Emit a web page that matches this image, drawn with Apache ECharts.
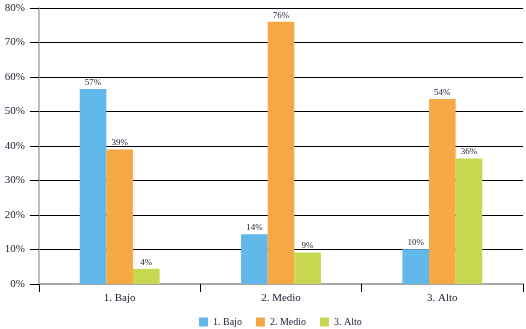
<!DOCTYPE html>
<html>
<head>
<meta charset="utf-8">
<script src="https://cdn.jsdelivr.net/npm/echarts@6/dist/echarts.min.js"></script>
<style>
  html, body { margin: 0; padding: 0; background: #fff; }
  #chart { width: 526px; height: 329px; }
</style>
</head>
<body>
<div id="chart"></div>
<script>
var categories = ['1. Bajo', '2. Medio', '3. Alto'];
var seriesNames = ['1. Bajo', '2. Medio', '3. Alto'];
var bajo = [56.5, 14.4, 10.1];
var medio = [39.0, 76.0, 53.6];
var alto = [4.4, 9.1, 36.4];
var yTicks = [0, 80, 10]; // min, max, interval

var font = '"Liberation Serif", "DejaVu Serif", serif';
var textColor = '#1c1c33';

var myChart = echarts.init(document.getElementById('chart'));

var makeSeries = function (name, data, color) {
  return {
    name: name,
    type: 'bar',
    data: data,
    barWidth: '16.5%',
    barGap: '0%',
    itemStyle: { color: color },
    label: {
      show: true,
      position: 'top',
      distance: 2,
      color: textColor,
      fontFamily: font,
      fontSize: 9,
      formatter: function (p) { return Math.round(p.value) + '%'; }
    }
  };
};

var option = {
  animation: false,
  textStyle: { fontFamily: font },
  grid: { left: 39, right: 3, top: 8, bottom: 45 },
  legend: {
    data: seriesNames,
    left: 194,
    top: 312,
    icon: 'rect',
    itemWidth: 9,
    itemHeight: 9,
    itemGap: 14,
    textStyle: { color: textColor, fontFamily: font, fontSize: 10 }
  },
  xAxis: {
    type: 'category',
    data: categories,
    boundaryGap: true,
    axisLine: { lineStyle: { color: '#a8a8a8', width: 2 } },
    axisTick: { show: true, length: 8, lineStyle: { color: '#000', width: 1 } },
    axisLabel: { color: textColor, fontFamily: font, fontSize: 11, margin: 9 }
  },
  yAxis: {
    type: 'value',
    min: yTicks[0],
    max: yTicks[1],
    interval: yTicks[2],
    axisLine: { show: true, lineStyle: { color: '#a8a8a8', width: 1.5 } },
    axisTick: { show: true, length: 9, lineStyle: { color: '#000', width: 1 } },
    axisLabel: { color: textColor, fontFamily: font, fontSize: 11, margin: 14, formatter: '{value}%' },
    splitLine: { show: true, lineStyle: { color: '#000', width: 1 } }
  },
  series: [
    makeSeries(seriesNames[0], bajo, '#62b8ea'),
    makeSeries(seriesNames[1], medio, '#f5a843'),
    makeSeries(seriesNames[2], alto, '#c7d74f')
  ]
};
myChart.setOption(option);
</script>
</body>
</html>
